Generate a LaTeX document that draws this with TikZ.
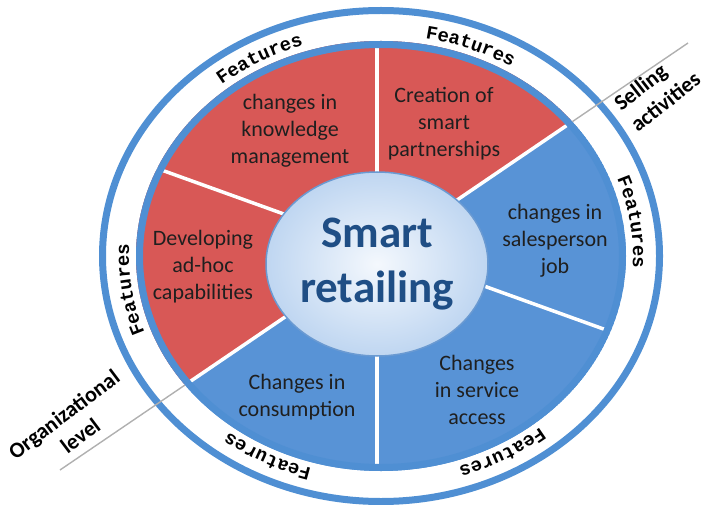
\documentclass[tikz,border=0pt]{standalone}
\usepackage{fontspec}
\setmainfont{Carlito}
\newfontfamily\featfont{Liberation Mono}
\usetikzlibrary{decorations.text,shapes.geometric}
\definecolor{redfill}{HTML}{D85856}
\definecolor{bluefill}{HTML}{5893D6}
\definecolor{bandblue}{HTML}{4F8FD3}
\definecolor{coreborder}{HTML}{6A9AD2}
\definecolor{coreouter}{HTML}{BFD6F1}
\definecolor{coreinner}{HTML}{F4F8FD}
\definecolor{titleblue}{HTML}{1F4E85}
\definecolor{linegray}{HTML}{B0B0B0}
\begin{document}
\begin{tikzpicture}[x=1pt,y=1pt,
  sectortext/.style={font=\fontsize{22}{27}\selectfont, align=center, text=black!88, inner sep=0pt},
  sidelabel/.style={font=\bfseries\fontsize{22}{27}\selectfont, inner sep=0pt, text=black},
  divider/.style={white, line width=3.5pt},
  guideline/.style={linegray, line width=1.4pt},
  band/.style={bandblue, line width=7pt},
  featurearc/.style={decorate, decoration={text along path, text align=center,
      text={|\featfont\bfseries\fontsize{19}{19}\selectfont|Features}}},
  corenode/.style={ellipse, minimum width=222pt, minimum height=184pt, inner sep=0pt,
      draw=coreborder, line width=1.5pt, inner color=coreinner, outer color=coreouter,
      font=\bfseries\fontsize{45}{55}\selectfont, text=titleblue, align=center}
]
\useasboundingbox (0,0) rectangle (706,504);
\coordinate (O) at (381,248);
\coordinate (sellEnd) at (688,461);
\coordinate (orgEnd) at (60,34);
\coordinate (divA) at (100,356.1);
\coordinate (divB) at (700,140.3);
\coordinate (vTop) at (377,504);
\coordinate (vBot) at (377,0);

% outer band of the ring
\draw[band] (O) ellipse[x radius=278.5, y radius=245.5];
% guide line
\draw[guideline] (orgEnd) -- (sellEnd);

% inner disk with sectors
\begin{scope}
  \clip (O) ellipse[x radius=245, y radius=215];
  \fill[bluefill] (O) ellipse[x radius=245, y radius=215];
  \fill[redfill] (orgEnd) -- (sellEnd) -- (760,497) -- (760,560) -- (-60,560) -- (-60,-30) -- cycle;
  \draw[divider] (orgEnd) -- (sellEnd);
  \draw[divider] (divA) -- (divB);
  \draw[divider] (vTop) -- (vBot);
\end{scope}
\draw[band] (O) ellipse[x radius=241.5, y radius=211.5];

% core
\node[corenode] (core) at (377,240) {Smart\\retailing};

% sector texts
\node[sectortext] (knowledge) at (290,373) {changes in\\knowledge\\management};
\node[sectortext] (partner) at (444,380) {Creation of\\smart\\partnerships};
\node[sectortext] (sales) at (555,263) {changes in\\salesperson\\job};
\node[sectortext] (service) at (477,114) {Changes\\in service\\access};
\node[sectortext] (consumption) at (297,107) {Changes in\\consumption};
\node[sectortext] (adhoc) at (203,237) {Developing\\ad-hoc\\capabilities};

% Features labels in the ring
\path[featurearc] ([shift={(144:252 and 221)}]O) arc[start angle=144, end angle=94, x radius=252, y radius=221];
\path[featurearc] ([shift={(94:252 and 221)}]O) arc[start angle=94, end angle=44, x radius=252, y radius=221];
\path[featurearc] ([shift={(33.5:252 and 221)}]O) arc[start angle=33.5, end angle=-16.5, x radius=252, y radius=221];
\path[featurearc] ([shift={(-36:252 and 221)}]O) arc[start angle=-36, end angle=-86, x radius=252, y radius=221];
\path[featurearc] ([shift={(-92:252 and 221)}]O) arc[start angle=-92, end angle=-142, x radius=252, y radius=221];
\path[featurearc] ([shift={(213.4:252 and 221)}]O) arc[start angle=213.4, end angle=163.4, x radius=252, y radius=221];

% side labels
\node[sidelabel, align=left, rotate=38] (selling) at (657,413) {Selling\\activities};
\node[sidelabel, align=center, rotate=37] (org) at (72,79) {Organizational\\level};
\end{tikzpicture}
\end{document}
